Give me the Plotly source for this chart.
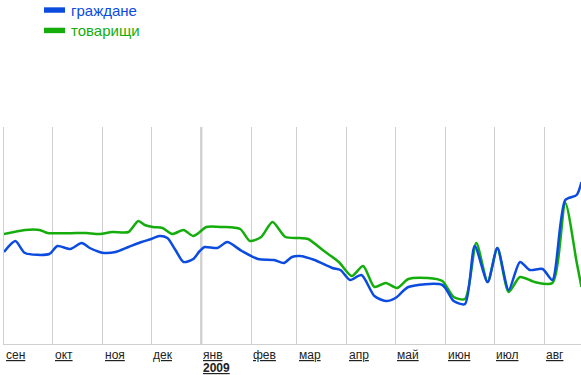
import plotly.graph_objects as go

# --- data ---
blue_name = "граждане"
green_name = "товарищи"

blue_dates = ["2008-09-01", "2008-09-08", "2008-09-14", "2008-09-29", "2008-10-04", "2008-10-12",
              "2008-10-19", "2008-10-24", "2008-10-30", "2008-11-02", "2008-11-09", "2008-11-17",
              "2008-11-25", "2008-12-01", "2008-12-06", "2008-12-11", "2008-12-16", "2008-12-21",
              "2008-12-27", "2008-12-31", "2009-01-03", "2009-01-11", "2009-01-17", "2009-01-26",
              "2009-02-05", "2009-02-15", "2009-02-21", "2009-02-26", "2009-03-03", "2009-03-12",
              "2009-03-23", "2009-03-28", "2009-04-03", "2009-04-10", "2009-04-18", "2009-04-25",
              "2009-05-01", "2009-05-09", "2009-05-30", "2009-06-06", "2009-06-13", "2009-06-19",
              "2009-06-27", "2009-07-03", "2009-07-10", "2009-07-17", "2009-07-23", "2009-07-31",
              "2009-08-06", "2009-08-14", "2009-08-21", "2009-08-24"]
blue_values = [0.92, 1.03, 0.91, 0.90, 0.98, 0.95,
               1.01, 0.96, 0.92, 0.91, 0.92, 0.97,
               1.02, 1.05, 1.08, 1.06, 0.94, 0.82,
               0.85, 0.93, 0.97, 0.96, 1.02, 0.93,
               0.85, 0.84, 0.81, 0.87, 0.88, 0.84,
               0.76, 0.74, 0.64, 0.69, 0.48, 0.43,
               0.46, 0.57, 0.59, 0.43, 0.40, 0.98,
               0.62, 0.96, 0.54, 0.82, 0.74, 0.75,
               0.64, 1.44, 1.49, 1.62]

green_dates = ["2008-09-01", "2008-09-14", "2008-09-23", "2008-09-28", "2008-10-16", "2008-10-22",
               "2008-10-30", "2008-11-07", "2008-11-17", "2008-11-23", "2008-11-27", "2008-12-02",
               "2008-12-08", "2008-12-14", "2008-12-21", "2008-12-27", "2008-12-31", "2009-01-04",
               "2009-01-14", "2009-01-25", "2009-01-31", "2009-02-07", "2009-02-14", "2009-02-22",
               "2009-03-03", "2009-03-08", "2009-03-17", "2009-03-27", "2009-04-04", "2009-04-11",
               "2009-04-18", "2009-04-25", "2009-05-02", "2009-05-09", "2009-05-21", "2009-05-30",
               "2009-06-06", "2009-06-13", "2009-06-20", "2009-06-27", "2009-07-03", "2009-07-10",
               "2009-07-17", "2009-07-26", "2009-08-06", "2009-08-14", "2009-08-21", "2009-08-24"]
green_values = [1.10, 1.14, 1.14, 1.11, 1.11, 1.11,
                1.10, 1.12, 1.12, 1.23, 1.19, 1.17,
                1.16, 1.10, 1.14, 1.08, 1.12, 1.17,
                1.17, 1.15, 1.03, 1.07, 1.22, 1.07,
                1.06, 1.05, 0.94, 0.82, 0.68, 0.78,
                0.57, 0.61, 0.56, 0.65, 0.66, 0.63,
                0.47, 0.45, 1.01, 0.62, 0.96, 0.52,
                0.67, 0.62, 0.61, 1.41, 0.82, 0.57]

month_starts = ["2008-09-01", "2008-10-01", "2008-11-01", "2008-12-01", "2009-01-01", "2009-02-01",
                "2009-03-01", "2009-04-01", "2009-05-01", "2009-06-01", "2009-07-01", "2009-08-01"]
month_labels = ["сен", "окт", "ноя", "дек", "янв", "фев", "мар", "апр", "май", "июн", "июл", "авг"]
year_label = "2009"
year_start = "2009-01-01"

BLUE = "#0c4be0"
GREEN = "#14ad0c"
FONT = "Liberation Sans, Arial, sans-serif"

fig = go.Figure()
fig.add_trace(go.Scatter(x=green_dates, y=green_values, mode="lines", name=green_name,
                         line=dict(color=GREEN, width=2.5, shape="spline", smoothing=0.7),
                         showlegend=False))
fig.add_trace(go.Scatter(x=blue_dates, y=blue_values, mode="lines", name=blue_name,
                         line=dict(color=BLUE, width=2.5, shape="spline", smoothing=0.7),
                         showlegend=False))

annotations = []
for d, lab in zip(month_starts, month_labels):
    annotations.append(dict(x=d, y=0, xref="x", yref="paper", text=f"<u>{lab}</u>", showarrow=False,
                            xanchor="left", yanchor="top", align="left", xshift=0, yshift=-2,
                            font=dict(family=FONT, size=12, color="#222222")))
annotations.append(dict(x=year_start, y=0, xref="x", yref="paper",
                        text=f"<b><u>{year_label}</u></b>", showarrow=False, borderpad=0,
                        xanchor="left", yanchor="top", align="left", xshift=1, yshift=-16,
                        font=dict(family=FONT, size=12, color="#222222")))

# legend (drawn manually to match the short thick swatches)
shapes = []
for (name, col, yc) in [(blue_name, BLUE, 1.539), (green_name, GREEN, 1.445)]:
    shapes.append(dict(type="rect", xref="paper", yref="paper", x0=0.0693, x1=0.1057,
                       y0=yc - 0.0125, y1=yc + 0.0125, fillcolor=col, line=dict(width=0)))
    annotations.append(dict(x=0.1127, y=yc, xref="paper", yref="paper", text=name, showarrow=False,
                            xanchor="left", yanchor="middle",
                            font=dict(family=FONT, size=15, color=col)))

# thicker year separator
shapes.append(dict(type="line", xref="x", yref="paper", x0=year_start, x1=year_start, y0=0, y1=1,
                   line=dict(color="#bdbdbd", width=2), layer="below"))

fig.update_layout(
    width=581, height=375,
    margin=dict(l=4, r=0, t=127, b=31),
    paper_bgcolor="white", plot_bgcolor="white",
    xaxis=dict(type="date", range=["2008-09-01", "2009-08-23 17:00"], tickvals=month_starts,
               showticklabels=False, ticks="", showgrid=True, gridcolor="#d0d0d0", gridwidth=1,
               showline=True, linecolor="#d0d0d0", linewidth=1, zeroline=False),
    yaxis=dict(range=[0, 2.17], showticklabels=False, ticks="", showgrid=False, zeroline=False,
               showline=True, linecolor="#d0d0d0", linewidth=1),
    annotations=annotations, shapes=shapes,
)

fig.write_html("out.html", config={"displayModeBar": False},
               post_script="document.body.style.margin='0px';document.body.style.overflow='hidden';")
